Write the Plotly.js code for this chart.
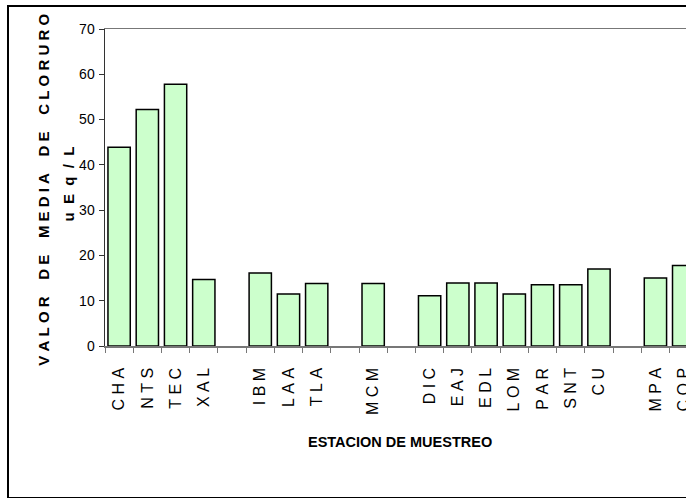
<!DOCTYPE html>
<html>
<head>
<meta charset="utf-8">
<script src="https://cdn.plot.ly/plotly-3.0.1.min.js"></script>
<style>
  html, body { margin: 0; padding: 0; overflow: hidden; background: #fff; }
  #wrap { position: absolute; left: 7px; top: 5px; width: 760px; height: 490px; border: 2px solid #000; }
  #chart { width: 760px; height: 490px; }
</style>
</head>
<body>
<div id="wrap"><div id="chart"></div></div>
<script>
// Stations (blank entries are the empty slots between groups)
const stations = ["CHA","NTS","TEC","XAL"," ","IBM","LAA","TLA","  ","MCM","   ",
                  "DIC","EAJ","EDL","LOM","PAR","SNT","CU","    ","MPA","COP","     "];
const chloride = [43.9, 52.2, 57.8, 14.7, null, 16.1, 11.5, 13.8, null, 13.8, null,
                  11.1, 13.9, 13.9, 11.5, 13.5, 13.5, 17.0, null, 15.0, 17.8, null];
const yTicks = [0, 10, 20, 30, 40, 50, 60, 70];
const xTitle = "ESTACION DE MUESTREO";
const yTitleLine1 = "VALOR DE MEDIA DE CLORURO";
const yTitleLine2 = "uEq/L";

const NB = "\u00A0";
function spaced(s, letterGap, wordGap) {
  return s.split(" ").map(w => w.split("").join(NB.repeat(letterGap))).join(NB.repeat(wordGap));
}
const tickText = stations.map(s => s.trim() === "" ? "" : spaced(s, 1, 1));

const trace = {
  type: "bar",
  x: stations,
  y: chloride,
  marker: { color: "#CCFFCC", line: { color: "#000000", width: 1.5 } },
  hoverinfo: "x+y"
};

const FONT = "Liberation Sans, Arial, sans-serif";

const layout = {
  width: 760, height: 490,
  margin: { l: 96, r: 43, t: 22, b: 151 },
  paper_bgcolor: "#ffffff",
  plot_bgcolor: "#ffffff",
  showlegend: false,
  bargap: 0.21,
  xaxis: {
    type: "category",
    categoryorder: "array",
    categoryarray: stations,
    tickmode: "array",
    tickvals: stations,
    ticktext: tickText,
    range: [-0.5, stations.length - 0.5],
    tickangle: -90,
    tickson: "boundaries",
    ticks: "outside", ticklen: 5, tickcolor: "#777777", tickwidth: 1,
    showline: true, linecolor: "#777777", linewidth: 1.5, mirror: true,
    showgrid: false, zeroline: false,
    ticklabelstandoff: 14,
    tickfont: { family: FONT, size: 16, color: "#000" }
  },
  yaxis: {
    range: [0, 70],
    tickmode: "array",
    tickvals: yTicks,
    ticktext: yTicks.map(String),
    ticks: "outside", ticklen: 5, tickcolor: "#333333", tickwidth: 1,
    showline: true, linecolor: "#333333", linewidth: 1.5,
    showgrid: false, zeroline: false,
    ticklabelstandoff: 1,
    tickfont: { family: FONT, size: 14, color: "#000" }
  },
  annotations: [
    { text: xTitle, xref: "paper", yref: "paper", x: 0.475, y: -0.303,
      xanchor: "center", yanchor: "middle", showarrow: false,
      font: { family: FONT, size: 14.5, color: "#000", weight: "bold" } },
    { text: spaced(yTitleLine1, 1, 4), xref: "paper", yref: "paper", x: -0.1005, y: 0.492,
      xanchor: "center", yanchor: "middle", textangle: -90, showarrow: false,
      font: { family: FONT, size: 15, color: "#000", weight: "bold" } },
    { text: spaced(yTitleLine2, 2, 2), xref: "paper", yref: "paper", x: -0.0595, y: 0.5095,
      xanchor: "center", yanchor: "middle", textangle: -90, showarrow: false,
      font: { family: FONT, size: 15, color: "#000", weight: "bold" } }
  ]
};

Plotly.newPlot("chart", [trace], layout, { displayModeBar: false, staticPlot: true });
</script>
</body>
</html>
